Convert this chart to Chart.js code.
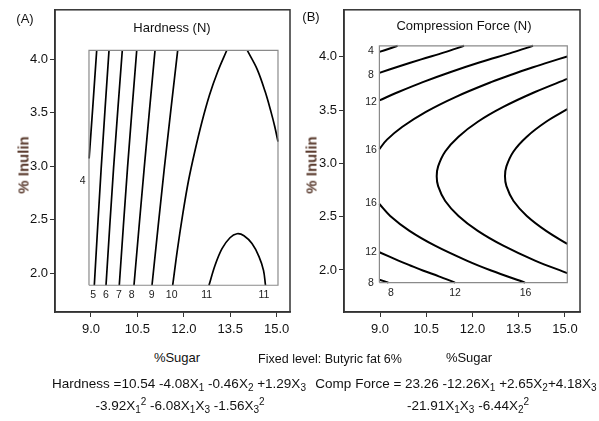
<!DOCTYPE html>
<html><head><meta charset="utf-8">
<script src="https://cdn.jsdelivr.net/npm/chart.js@4"></script>
<style>
html,body{margin:0;padding:0;background:#fff;}
#wrap{position:relative;width:599px;height:421px;overflow:hidden;font-family:"Liberation Sans",Arial,sans-serif;color:#111;}
canvas{position:absolute;top:0;}
.t{position:absolute;white-space:nowrap;transform:translate(-50%,-50%);font-size:13px;line-height:1;}
.eq{font-size:13.5px;}
.rot{transform:translate(-50%,-50%) rotate(-90deg);font-weight:bold;font-size:15px;color:#5a3b2e;}
sub,sup{font-size:10px;line-height:0;position:relative;vertical-align:baseline;}
sub{top:3px;} sup{top:-5px;}
</style></head>
<body><div id="wrap">
<canvas id="cA" width="300" height="345" style="left:0px;width:300px;height:345px;"></canvas>
<canvas id="cB" width="309" height="345" style="left:290px;width:309px;height:345px;"></canvas>
<div class="t" style="left:25px;top:18px;">(A)</div>
<div class="t" style="left:311px;top:16px;">(B)</div>
<div class="t" style="left:172px;top:27px;">Hardness (N)</div>
<div class="t" style="left:464px;top:25px;">Compression Force (N)</div>
<div class="t rot" style="left:23px;top:165px;">% Inulin</div>
<div class="t rot" style="left:311px;top:165px;">% Inulin</div>
<div class="t" style="left:177px;top:357px;">%Sugar</div>
<div class="t" style="left:469px;top:357px;">%Sugar</div>
<div class="t" style="left:330px;top:359px;font-size:12.5px;">Fixed level: Butyric fat 6%</div>
<div class="t eq" style="left:179px;top:384px;">Hardness =10.54 -4.08X<sub>1</sub> -0.46X<sub>2</sub> +1.29X<sub>3</sub></div>
<div class="t eq" style="left:180px;top:406px;">-3.92X<sub>1</sub><sup>2</sup> -6.08X<sub>1</sub>X<sub>3</sub> -1.56X<sub>3</sub><sup>2</sup></div>
<div class="t eq" style="left:456px;top:384px;">Comp Force = 23.26 -12.26X<sub>1</sub> +2.65X<sub>2</sub>+4.18X<sub>3</sub></div>
<div class="t eq" style="left:468px;top:406px;">-21.91X<sub>1</sub>X<sub>3</sub> -6.44X<sub>2</sub><sup>2</sup></div>
</div>
<script>
// ---- axis ticks ----
const sugarTicks = [9.0, 10.5, 12.0, 13.5, 15.0];
const inulinTicks = [2.0, 2.5, 3.0, 3.5, 4.0];

// ---- panel A: Hardness contours, [sugar, inulin] ----
const hardnessBox = [8.935, 15.042, 1.889, 4.083];
const hardness4 = [[9.184,4.083],[9.058,3.556],[8.94,3.074]];
const hardness5 = [[9.582,4.083],[9.33,2.986],[9.107,1.889]];
const hardness6 = [[10.011,4.083],[9.73,2.986],[9.485,1.889]];
const hardness7 = [[10.477,4.083],[10.18,2.986],[9.914,1.889]];
const hardness8 = [[11.068,4.083],[10.72,2.986],[10.389,1.889]];
const hardness9 = [[11.801,4.083],[11.37,2.986],[10.971,1.889]];
const hardness10Left = [[11.640,1.889],[11.788,2.213],[11.966,2.556],[12.147,2.861],[12.354,3.139],[12.586,3.417],[12.829,3.667],[13.087,3.880],[13.385,4.083]];
const hardness10Right = [[14.050,4.083],[14.370,3.907],[14.632,3.694],[14.816,3.509],[14.939,3.370],[15.042,3.231]];
const hardness11 = [[12.813,1.889],[13.006,2.074],[13.233,2.231],[13.491,2.333],[13.717,2.370],[13.943,2.352],[14.202,2.278],[14.428,2.157],[14.574,2.028],[14.638,1.889]];
const hardnessLabelText = ['4','5','6','7','8','9','10','11','11'];
const hardnessLabelX = [8.732, 9.074, 9.485, 9.905, 10.315, 10.961, 11.607, 12.738, 14.590];
const hardnessLabelY = [2.861, 1.796, 1.796, 1.796, 1.796, 1.796, 1.796, 1.796, 1.796];

// ---- panel B: Compression force contours, [sugar, inulin] ----
const forceBox = [8.98, 15.075, 1.881, 4.104];
const force4 = [[8.98,4.047],[9.318,4.079],[9.568,4.104]];
const force8Upper = [[8.98,3.850],[9.629,3.912],[10.336,3.977],[11.086,4.042],[11.725,4.104]];
const force8Lower = [[8.98,1.908],[9.272,1.881]];
const force12Upper = [[8.98,3.592],[9.597,3.670],[10.388,3.763],[11.271,3.856],[12.244,3.949],[13.301,4.042],[13.963,4.104]];
const force12Lower = [[8.98,2.166],[9.597,2.088],[9.983,2.042],[10.388,1.995],[10.907,1.940],[11.433,1.881]];
const force16Upper = [[8.98,3.135],[9.227,3.223],[9.727,3.344],[10.489,3.484],[11.446,3.623],[12.604,3.763],[13.304,3.837],[13.963,3.902],[14.508,3.953],[15.075,4.004]];
const force16Lower = [[8.98,2.619],[9.331,2.507],[9.957,2.367],[10.784,2.228],[11.812,2.088],[12.604,1.995],[13.703,1.881]];
const force20 = [[15.075,3.793],[14.028,3.670],[12.999,3.530],[12.172,3.391],[11.546,3.251],[11.115,3.112],[10.885,2.972],[10.839,2.879],[10.885,2.786],[11.115,2.647],[11.546,2.507],[12.172,2.367],[12.999,2.228],[14.028,2.088],[15.075,1.970]];
const force24 = [[15.075,3.509],[14.388,3.391],[13.762,3.251],[13.330,3.112],[13.100,2.972],[13.054,2.879],[13.100,2.786],[13.330,2.647],[13.762,2.507],[14.388,2.367],[15.075,2.244]];
const forceLabelText = ['4','8','12','16','16','12','8','8','12','16'];
const forceLabelX = [8.708, 8.708, 8.708, 8.708, 8.708, 8.708, 8.708, 9.357, 11.433, 13.720];
const forceLabelY = [4.051, 3.831, 3.577, 3.121, 2.631, 2.166, 1.877, 1.781, 1.781, 1.781];

const FF = '"Liberation Sans", Arial, sans-serif';

function pts(arr){ return arr.map(p => ({x:p[0], y:p[1]})); }
function boxPts(b){ return [{x:b[0],y:b[2]},{x:b[1],y:b[2]},{x:b[1],y:b[3]},{x:b[0],y:b[3]},{x:b[0],y:b[2]}]; }

function makeChart(id, opt){
  const datasets = [{data: boxPts(opt.box), showLine:true, borderColor:'#8a8a8a', borderWidth:1.2, pointRadius:0, tension:0, fill:false}];
  opt.lines.forEach(l => datasets.push({data: pts(l), showLine:true, borderColor:'#000', borderWidth:opt.lw, pointRadius:0, tension:0.35, fill:false}));
  const framePlugin = {id:'frame', afterDraw(chart){
    const a = chart.chartArea, c = chart.ctx; c.save(); c.strokeStyle='#333'; c.lineWidth=1.5;
    c.strokeRect(a.left, a.top, a.right-a.left, a.bottom-a.top); c.restore(); }};
  const labelPlugin = {id:'clabels', afterDatasetsDraw(chart){
    const c = chart.ctx, xs = chart.scales.x, ys = chart.scales.y; c.save();
    c.font = '10.5px ' + FF; c.fillStyle = '#222'; c.textAlign='center'; c.textBaseline='middle';
    opt.lt.forEach((t,i) => c.fillText(t, xs.getPixelForValue(opt.lx[i]), ys.getPixelForValue(opt.ly[i])));
    c.restore(); }};
  return new Chart(document.getElementById(id), {
    type:'scatter',
    data:{datasets},
    options:{
      animation:false, responsive:false, maintainAspectRatio:false,
      layout:{padding:{left:0, top:7, right:opt.padR, bottom:0}},
      plugins:{legend:{display:false}, tooltip:{enabled:false}, title:{display:false}},
      scales:{
        x:{type:'linear', min:opt.xmin, max:opt.xmax,
          afterBuildTicks:s=>{s.ticks = sugarTicks.map(v=>({value:v}));},
          afterFit:s=>{s.height = 33;},
          ticks:{autoSkip:false, padding:5, color:'#111', font:{family:FF, size:13}, maxRotation:0, callback:v=>Number(v).toFixed(1)},
          grid:{drawOnChartArea:false, drawTicks:true, tickLength:5, color:'#333', lineWidth:1},
          border:{display:true, color:'#333', width:1.5}},
        y:{type:'linear', min:opt.ymin, max:opt.ymax,
          afterBuildTicks:s=>{s.ticks = inulinTicks.map(v=>({value:v}));},
          afterFit:s=>{s.width = opt.yw;},
          ticks:{autoSkip:false, padding:2, color:'#111', font:{family:FF, size:13}, callback:v=>Number(v).toFixed(1)},
          grid:{drawOnChartArea:false, drawTicks:true, tickLength:5, color:'#333', lineWidth:1},
          border:{display:true, color:'#333', width:1.5}}
      }
    },
    plugins:[framePlugin, labelPlugin]
  });
}

makeChart('cA', {box:hardnessBox, lw:1.7,
  lines:[hardness4,hardness5,hardness6,hardness7,hardness8,hardness9,hardness10Left,hardness10Right,hardness11],
  lt:hardnessLabelText, lx:hardnessLabelX, ly:hardnessLabelY,
  xmin:7.837, xmax:15.430, ymin:1.639, ymax:4.463, yw:55, padR:10});
makeChart('cB', {box:forceBox, lw:2,
  lines:[force4,force8Upper,force8Lower,force12Upper,force12Lower,force16Upper,force16Lower,force20,force24],
  lt:forceLabelText, lx:forceLabelX, ly:forceLabelY,
  xmin:7.832, xmax:15.487, ymin:1.605, ymax:4.442, yw:54, padR:19});
</script>
</body></html>
